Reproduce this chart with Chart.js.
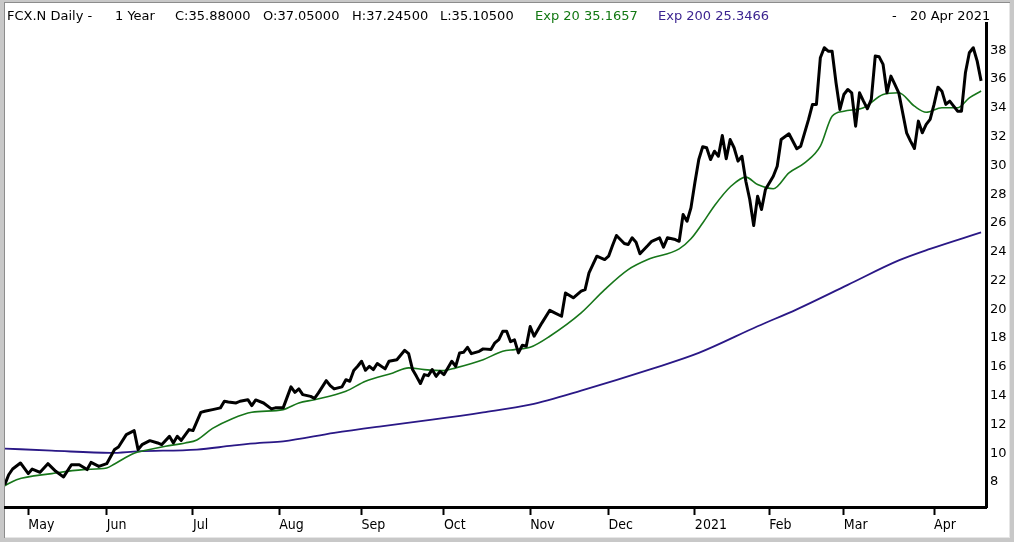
<!DOCTYPE html>
<html>
<head>
<meta charset="utf-8">
<script src="https://cdn.jsdelivr.net/npm/chart.js@4.4.1/dist/chart.umd.min.js"></script>
<style>
  html, body { margin: 0; padding: 0; background: #fff; }
  #wrap { position: relative; width: 1014px; height: 542px; overflow: hidden; }
  #frame {
    position: absolute; left: 0; top: 0; width: 1014px; height: 542px; box-sizing: border-box;
    border-style: solid; border-color: #c8c8c8; border-width: 2px 4px 4px 4px;
    box-shadow: inset 1px 1px 0 #8c8c8c, inset -1px -1px 0 #e6e6e6;
  }
  #chart { position: absolute; left: 0; top: 0; }
  .hd { position: absolute; top: 8px; font: 13px 'DejaVu Sans', sans-serif; line-height: 15px; white-space: pre; color: #000; }
  .g { color: #127812; }
  .p { color: #3c2490; }
</style>
</head>
<body>
<div id="wrap">
  <div id="frame"></div>
  <canvas id="chart" width="1014" height="542"></canvas>
  <div class="hd" style="left:7px">FCX.N Daily -</div>
  <div class="hd" style="left:115px">1 Year</div>
  <div class="hd" style="left:175px">C:35.88000</div>
  <div class="hd" style="left:263px">O:37.05000</div>
  <div class="hd" style="left:352px">H:37.24500</div>
  <div class="hd" style="left:440px">L:35.10500</div>
  <div class="hd g" style="left:535px">Exp 20 35.1657</div>
  <div class="hd p" style="left:658px">Exp 200 25.3466</div>
  <div class="hd" style="left:892px">-</div>
  <div class="hd" style="left:910px">20 Apr 2021</div>
</div>
<script>
// x values are trading-day numbers (May 1 2020 = day 9)
const closeDays = [
  3, 4, 5, 7, 9, 10, 12, 14, 16, 18, 20, 22, 24, 25, 27, 29, 31, 32, 34, 36,
  37, 38, 40, 42, 43, 45, 46, 47, 48, 50, 51, 53, 54, 56, 58, 59, 60, 62, 63, 65,
  66, 67, 69, 71, 72, 74, 76, 77, 78, 79, 81, 82, 83, 85, 86, 87, 89, 90, 91, 92,
  93, 94, 95, 96, 97, 98, 100, 101, 103, 105, 106, 107, 108, 109, 110, 111, 112, 113, 114, 115,
  117, 118, 119, 120, 121, 122, 124, 125, 127, 128, 129, 130, 131, 132, 133, 134, 135, 136, 137, 138,
  140, 142, 143, 145, 146, 148, 150, 151, 152, 154, 156, 157, 158, 159, 161, 162, 163, 164, 165, 167,
  168, 170, 171, 172, 174, 175, 176, 177, 178, 179, 180, 181, 182, 183, 184, 185, 186, 187, 188, 189,
  190, 191, 192, 193, 194, 195, 196, 197, 199, 200, 201, 203, 205, 206, 208, 209, 210, 211, 212, 213,
  214, 215, 216, 217, 218, 219, 220, 221, 222, 223, 224, 225, 226, 227, 228, 229, 230, 231, 233, 234,
  235, 236, 237, 238, 239, 240, 241, 242, 243, 244, 245, 246, 247, 248, 249, 250, 251, 252,
];
const closePrices = [
  7.81, 8.50, 8.90, 9.32, 8.58, 8.90, 8.67, 9.27, 8.74, 8.35, 9.20, 9.20, 8.86, 9.36, 9.08, 9.27, 10.25, 10.43, 11.29, 11.57,
  10.25, 10.59, 10.87, 10.71, 10.59, 11.17, 10.71, 11.17, 10.89, 11.64, 11.57, 12.84, 12.91, 13.03, 13.15, 13.61, 13.56, 13.49, 13.61, 13.72,
  13.31, 13.70, 13.49, 13.08, 13.15, 13.15, 14.61, 14.23, 14.47, 14.07, 13.95, 13.81, 14.19, 15.04, 14.70, 14.47, 14.61, 15.11, 15.00, 15.74,
  16.04, 16.39, 15.76, 16.04, 15.81, 16.23, 15.86, 16.39, 16.50, 17.15, 16.92, 15.81, 15.34, 14.84, 15.46, 15.39, 15.81, 15.34, 15.69, 15.46,
  16.39, 16.04, 16.97, 17.01, 17.36, 16.92, 17.08, 17.25, 17.20, 17.67, 17.90, 18.47, 18.47, 17.75, 17.88, 16.97, 17.50, 17.43, 18.80, 18.13,
  19.06, 19.93, 19.79, 19.52, 21.14, 20.80, 21.26, 21.37, 22.53, 23.69, 23.46, 23.69, 24.43, 25.13, 24.57, 24.50, 24.97, 24.66, 23.86, 24.43,
  24.73, 24.97, 24.32, 24.97, 24.85, 24.73, 26.59, 26.12, 27.05, 28.79, 30.41, 31.30, 31.23, 30.41, 30.99, 30.64, 32.08, 30.46, 31.80, 31.23,
  30.30, 30.64, 28.90, 27.63, 25.82, 27.86, 26.94, 28.33, 29.25, 29.94, 31.80, 32.20, 31.16, 31.34, 33.20, 34.24, 34.24, 37.48, 38.18, 37.94,
  37.94, 35.75, 33.89, 34.93, 35.28, 35.05, 32.73, 35.05, 34.47, 33.94, 34.59, 37.60, 37.55, 37.02, 35.05, 36.21, 35.63, 35.05, 32.27, 31.69,
  31.18, 33.08, 32.27, 32.85, 33.20, 34.24, 35.44, 35.16, 34.24, 34.47, 34.12, 33.77, 33.77, 36.44, 37.83, 38.18, 37.25, 35.88,
];
const ema20Days = [
  3, 6, 15, 23, 29, 31, 36, 39, 44, 49, 52, 56, 61, 66, 74, 78, 82, 90, 95, 102,
  106, 110, 115, 118, 125, 130, 133, 137, 142, 150, 156, 162, 167, 175, 178, 181, 184, 188, 192, 195,
  199, 203, 207, 211, 214, 217, 222, 227, 231, 235, 238, 242, 246, 249, 252,
];
const ema20Values = [
  7.74, 8.16, 8.58, 8.86, 8.97, 9.25, 10.00, 10.20, 10.48, 10.71, 10.92, 11.72, 12.40, 12.84, 13.03, 13.49, 13.72, 14.30, 15.00, 15.58,
  15.93, 15.81, 15.74, 15.93, 16.50, 17.08, 17.20, 17.36, 18.13, 19.75, 21.37, 22.76, 23.46, 24.20, 24.90, 26.00, 27.20, 28.50, 29.19, 28.67,
  28.38, 29.49, 30.18, 31.34, 33.42, 33.77, 34.01, 34.93, 35.05, 34.12, 33.70, 34.01, 34.01, 34.70, 35.17,
];
const ema200Days = [3, 15, 30, 37, 52, 61, 68, 74, 87, 99, 112, 125, 137, 150, 168, 180, 195, 205, 218, 231, 239, 252];
const ema200Values = [
  10.32, 10.18, 10.02, 10.13, 10.25, 10.52, 10.71, 10.82, 11.41, 11.87, 12.33, 12.84, 13.38, 14.35, 15.86, 16.97,
  18.82, 20.00, 21.70, 23.40, 24.20, 25.35,
];
const monthTickDays = [9, 29, 51, 73, 94, 115, 137, 157, 179, 198, 217, 240];
const monthTickLabels = ['May', 'Jun', 'Jul', 'Aug', 'Sep', 'Oct', 'Nov', 'Dec', '2021', 'Feb', 'Mar', 'Apr'];
const priceTicks = [8, 10, 12, 14, 16, 18, 20, 22, 24, 26, 28, 30, 32, 34, 36, 38];

const toPoints = (days, values) => days.map((d, i) => ({ x: d, y: values[i] }));

function drawChart() {
  const ctx = document.getElementById('chart');
  // eslint-disable-next-line no-unused-vars,no-undef
  const priceChart = new Chart(ctx, {
    type: 'line',
    data: {
      datasets: [{
        label: 'FCX.N',
        data: toPoints(closeDays, closePrices),
        borderColor: '#000000',
        borderWidth: 3,
        borderJoinStyle: 'round',
        pointRadius: 0,
        tension: 0,
      }, {
        label: 'Exp 20',
        data: toPoints(ema20Days, ema20Values),
        borderColor: '#17761a',
        borderWidth: 1.6,
        pointRadius: 0,
        cubicInterpolationMode: 'monotone',
      }, {
        label: 'Exp 200',
        data: toPoints(ema200Days, ema200Values),
        borderColor: '#2a1886',
        borderWidth: 1.8,
        pointRadius: 0,
        cubicInterpolationMode: 'monotone',
      }],
    },
    options: {
      responsive: false,
      animation: false,
      devicePixelRatio: 1,
      layout: {
        padding: { left: 5, top: 23, right: 4, bottom: 5 },
      },
      plugins: {
        legend: { display: false },
        tooltip: { enabled: false },
      },
      scales: {
        x: {
          type: 'linear',
          position: 'bottom',
          min: 3.06,
          max: 253.25,
          afterBuildTicks: (scale) => {
            scale.ticks = monthTickDays.map((v) => ({ value: v }));
          },
          afterFit: (scale) => {
            scale.height = 30;
          },
          ticks: {
            autoSkip: false,
            maxRotation: 0,
            align: 'start',
            padding: 2,
            color: '#000',
            font: { family: "'DejaVu Sans Condensed', 'Liberation Sans Narrow', 'DejaVu Sans'", size: 14 },
            callback: (v) => monthTickLabels[monthTickDays.indexOf(v)],
          },
          grid: {
            drawOnChartArea: false,
            drawTicks: true,
            tickLength: 8,
            tickWidth: 2,
            tickColor: '#000',
          },
          border: { display: true, color: '#000', width: 3 },
        },
        y: {
          type: 'linear',
          position: 'right',
          min: 6.26,
          max: 39.9,
          afterBuildTicks: (scale) => {
            scale.ticks = priceTicks.map((v) => ({ value: v }));
          },
          afterFit: (scale) => {
            scale.width = 24;
          },
          ticks: {
            padding: 4,
            color: '#000',
            font: { family: "'DejaVu Sans'", size: 13 },
          },
          grid: { drawOnChartArea: false, drawTicks: false },
          border: { display: true, color: '#000', width: 3 },
        },
      },
    },
  });
}

document.addEventListener('DOMContentLoaded', () => {
  drawChart();
});
</script>
</body>
</html>
